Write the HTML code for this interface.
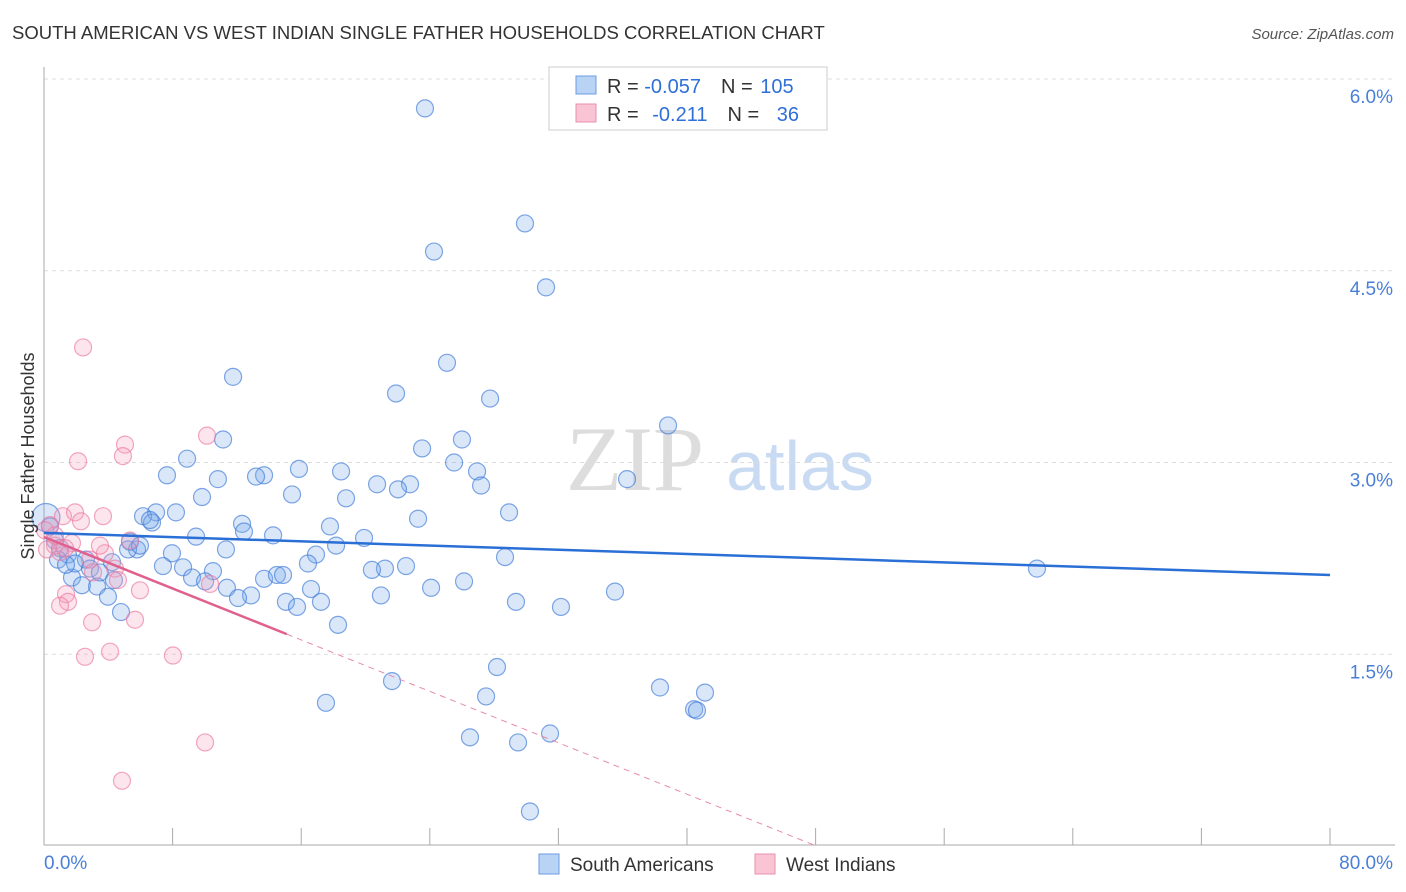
<!DOCTYPE html>
<html><head><meta charset="utf-8"><style>
body{margin:0;background:#fff;font-family:"Liberation Sans",sans-serif}
svg{display:block}
</style></head><body>
<svg id="chart" width="1406" height="892" viewBox="0 0 1406 892" xmlns="http://www.w3.org/2000/svg">
<text x="12" y="39" font-size="18.5" fill="#333">SOUTH AMERICAN VS WEST INDIAN SINGLE FATHER HOUSEHOLDS CORRELATION CHART</text>
<text x="1394" y="39" font-size="15" fill="#555" font-style="italic" text-anchor="end">Source: ZipAtlas.com</text>
<g>
<text x="635" y="490" font-size="92" fill="#ddd" font-family="Liberation Serif" text-anchor="middle">ZIP</text>
<text x="800" y="490" font-size="70" fill="#c9dbf3" text-anchor="middle">atlas</text>
</g>
<g id="grid"></g>
<g id="axes"></g>
<g id="marks"></g>
<g id="trends"></g>
<text transform="translate(34,456) rotate(-90)" font-size="18" fill="#333" text-anchor="middle">Single Father Households</text>
<g>
<rect x="549" y="67" width="278" height="63" fill="#fff" stroke="#ccc"/>
<rect x="576" y="76" width="20" height="18" fill="#b9d3f5" stroke="#6b9be0"/>
<rect x="576" y="104" width="20" height="18" fill="#f9c5d5" stroke="#ea8fae"/>
<text x="607" y="93" font-size="20" fill="#333">R = <tspan fill="#2f6fd8">-0.057</tspan><tspan dx="20">N = </tspan><tspan dx="2" fill="#2f6fd8">105</tspan></text>
<text x="607" y="121" font-size="20" fill="#333">R = <tspan dx="8" fill="#2f6fd8">-0.211</tspan><tspan dx="20">N = </tspan><tspan dx="12" fill="#2f6fd8">36</tspan></text>
</g>
<g>
<rect x="539" y="854" width="20" height="20" fill="#b9d3f5" stroke="#6b9be0"/>
<text x="570" y="871" font-size="19" fill="#333">South Americans</text>
<rect x="755" y="854" width="20" height="20" fill="#f9c5d5" stroke="#ea8fae"/>
<text x="786" y="871" font-size="19" fill="#333">West Indians</text>
</g>
</svg>
<script>
const yTicks=[1.5,3.0,4.5,6.0];
const yTickLabels=["1.5%","3.0%","4.5%","6.0%"];
const xTicks=[8,16,24,32,40,48,56,64,72,80];
const blueX=[23.70,29.92,24.26,31.23,25.07,11.76,21.90,27.75,38.82,11.14,26.00,23.52,8.90,25.51,15.86,18.48,26.94,7.65,13.69,13.19,36.27,10.82,20.72,27.19,22.77,22.02,15.43,9.83,18.79,8.21,28.93,6.97,6.16,6.72,23.27,12.32,17.79,12.44,14.25,9.46,19.91,18.17,5.35,5.79,5.23,28.68,7.96,16.92,11.32,16.42,22.52,7.40,8.65,4.23,2.61,21.21,20.40,10.51,9.21,13.69,14.49,14.87,1.74,26.13,11.38,24.08,2.36,3.30,16.61,10.02,20.96,12.88,12.07,15.05,3.98,15.74,17.23,29.36,35.52,32.16,4.79,18.29,61.77,28.18,21.65,38.32,41.12,27.50,17.54,40.44,40.62,26.50,31.48,29.49,30.23,0.12,0.37,0.68,1.00,1.49,1.93,0.87,2.86,3.48,4.35,1.37,6.59,5.97];
const blueY=[5.77,4.87,4.65,4.37,3.78,3.67,3.54,3.50,3.29,3.18,3.18,3.11,3.03,3.00,2.95,2.93,2.93,2.90,2.90,2.89,2.87,2.87,2.83,2.82,2.83,2.79,2.75,2.73,2.72,2.61,2.61,2.61,2.58,2.53,2.56,2.52,2.50,2.46,2.43,2.42,2.41,2.35,2.38,2.32,2.32,2.26,2.29,2.28,2.32,2.21,2.19,2.19,2.18,2.22,2.24,2.17,2.16,2.15,2.10,2.09,2.12,2.12,2.10,2.07,2.02,2.02,2.04,2.03,2.01,2.07,1.96,1.96,1.94,1.91,1.95,1.87,1.91,1.91,1.99,1.87,1.83,1.73,2.17,1.40,1.29,1.24,1.20,1.17,1.12,1.07,1.06,0.85,0.88,0.81,0.27,2.57,2.50,2.39,2.33,2.28,2.21,2.24,2.17,2.14,2.08,2.20,2.55,2.35];
const pinkX=[2.43,10.14,5.04,4.91,2.12,1.18,1.93,3.67,2.30,5.35,0.37,0.68,0.19,1.00,1.74,3.79,4.42,2.86,4.60,3.05,10.33,5.97,1.37,1.49,1.00,2.99,5.66,4.11,2.55,8.02,10.02,4.85,0.68,0.06,3.48,1.31];
const pinkY=[3.90,3.21,3.14,3.05,3.01,2.58,2.61,2.58,2.54,2.39,2.51,2.35,2.32,2.30,2.37,2.29,2.17,2.24,2.08,2.14,2.05,2.00,1.97,1.91,1.88,1.75,1.77,1.52,1.48,1.49,0.81,0.51,2.43,2.47,2.35,2.33];
const blueTrend=[2.449,2.12];
const pinkTrend=[2.417,-0.0503];
const pinkSolidEnd=15.1, pinkDashEnd=47.96;

const X0=44,X1=1330,YB=846,YT=79;
const xs=v=>X0+(v/80)*(X1-X0);
const ys=v=>YB-(v/6)*(YB-YT);
const NS="http://www.w3.org/2000/svg";
function mk(tag,attrs,parent){const e=document.createElementNS(NS,tag);for(const k in attrs)e.setAttribute(k,attrs[k]);parent.appendChild(e);return e;}
const grid=document.getElementById('grid'),axes=document.getElementById('axes'),marks=document.getElementById('marks'),trends=document.getElementById('trends');
yTicks.forEach((t,i)=>{
 const l=mk('line',{x1:X0,x2:1395,y1:ys(t),y2:ys(t),stroke:'#ddd','stroke-dasharray':'4,4'},grid);
 
 
 const tx=mk('text',{x:1393,y:ys(t)+24,'font-size':19,fill:'#4a7fd8','text-anchor':'end'},axes);
 tx.textContent=yTickLabels[i];
 
 
});
let a=mk('line',{x1:X0,x2:X0,y1:67,y2:845,stroke:'#aaa'},axes);


a=mk('line',{x1:X0,x2:1395,y1:845,y2:845,stroke:'#aaa'},axes);


xTicks.forEach(t=>{
 const l=mk('line',{x1:xs(t),x2:xs(t),y1:828,y2:845,stroke:'#aaa'},axes);
 
 
});
let t=mk('text',{x:44,y:869,'font-size':19,fill:'#4a7fd8'},axes);t.textContent='0.0%';


t=mk('text',{x:1393,y:869,'font-size':19,fill:'#4a7fd8','text-anchor':'end'},axes);t.textContent='80.0%';


blueX.forEach((x,i)=>{
 const c=mk('circle',{cx:xs(x),cy:ys(blueY[i]),r:i===95?14:8.5,fill:'rgba(120,170,235,0.28)',stroke:'rgba(60,120,215,0.65)','stroke-width':1.2},marks);
 
 
});
pinkX.forEach((x,i)=>{
 const c=mk('circle',{cx:xs(x),cy:ys(pinkY[i]),r:8.5,fill:'rgba(245,160,190,0.28)',stroke:'rgba(235,120,160,0.65)','stroke-width':1.2},marks);
 
 
});
let l=mk('line',{x1:xs(0),y1:ys(blueTrend[0]),x2:xs(80),y2:ys(blueTrend[1]),stroke:'#2a6fd6','stroke-width':2.5},trends);


const py=x=>pinkTrend[0]+pinkTrend[1]*x;
l=mk('line',{x1:xs(0),y1:ys(py(0)),x2:xs(pinkSolidEnd),y2:ys(py(pinkSolidEnd)),stroke:'#e0608e','stroke-width':2.5},trends);


l=mk('line',{x1:xs(pinkSolidEnd),y1:ys(py(pinkSolidEnd)),x2:xs(pinkDashEnd),y2:ys(py(pinkDashEnd)),stroke:'#e88aab','stroke-width':1,'stroke-dasharray':'6,5'},trends);


</script>
</body></html>
